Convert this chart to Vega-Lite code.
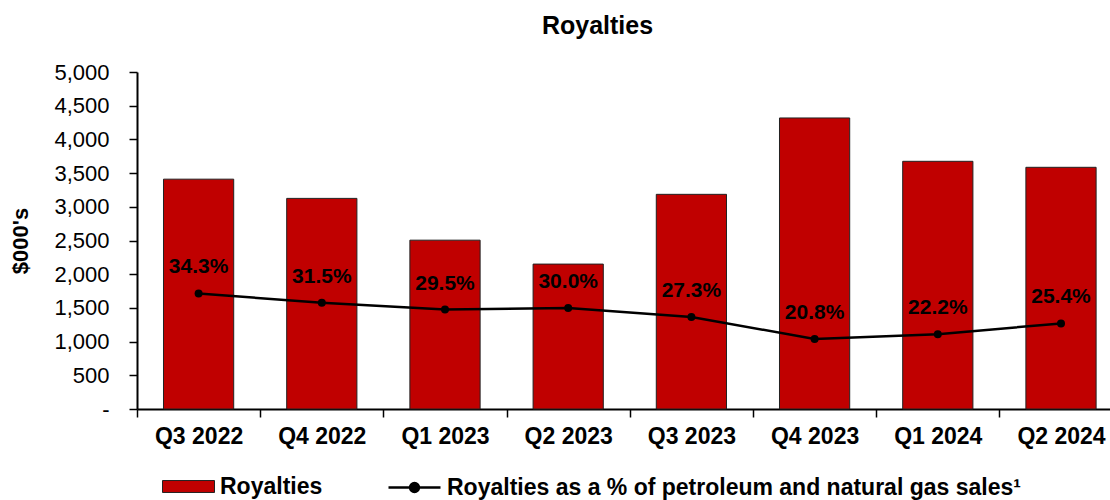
{
  "$schema": "https://vega.github.io/schema/vega-lite/v6.json",
  "width": 973,
  "height": 337,
  "autosize": {"type": "none"},
  "padding": {"left": 137, "top": 72, "right": 0, "bottom": 91},
  "config": {
    "view": {"stroke": null},
    "font": "Liberation Sans",
    "axis": {"grid": false, "domainColor": "#000", "tickColor": "#000", "labelColor": "#000", "titleColor": "#000"}
  },
  "title": {
    "text": "Royalties",
    "fontSize": 25,
    "fontWeight": "bold",
    "color": "#000",
    "anchor": "middle",
    "frame": "group",
    "dx": -26,
    "baseline": "alphabetic",
    "offset": 2
  },
  "data": {
    "values": [
      {"quarter": "Q3 2022", "royalties": 3410, "pct": 0.343},
      {"quarter": "Q4 2022", "royalties": 3125, "pct": 0.315},
      {"quarter": "Q1 2023", "royalties": 2505, "pct": 0.295},
      {"quarter": "Q2 2023", "royalties": 2150, "pct": 0.300},
      {"quarter": "Q3 2023", "royalties": 3185, "pct": 0.273},
      {"quarter": "Q4 2023", "royalties": 4318, "pct": 0.208},
      {"quarter": "Q1 2024", "royalties": 3675, "pct": 0.222},
      {"quarter": "Q2 2024", "royalties": 3586, "pct": 0.254}
    ]
  },
  "encoding": {
    "x": {
      "field": "quarter",
      "type": "nominal",
      "sort": null,
      "title": null,
      "scale": {"range": [0, 985.6], "paddingInner": 0, "paddingOuter": 0},
      "axis": {
        "labelAngle": 0,
        "labelFontSize": 23,
        "labelFontWeight": "bold",
        "labelPadding": 8,
        "tickSize": 8,
        "tickWidth": 1.5,
        "domainWidth": 2,
        "tickBand": "extent"
      }
    }
  },
  "layer": [
    {
      "mark": {"type": "bar", "stroke": "#222", "strokeWidth": 1, "width": {"band": 0.57}},
      "encoding": {
        "y": {
          "field": "royalties",
          "type": "quantitative",
          "scale": {"domain": [0, 5000]},
          "title": "$000's",
          "axis": {
            "values": [0, 500, 1000, 1500, 2000, 2500, 3000, 3500, 4000, 4500, 5000],
            "labelExpr": "datum.value == 0 ? '-' : format(datum.value, ',')",
            "labelFontSize": 22,
            "labelPadding": 20,
            "tickSize": 8,
            "tickWidth": 1.5,
            "domainWidth": 2,
            "titleFontSize": 22,
            "titleFontWeight": "bold",
            "titlePadding": 21
          }
        },
        "fill": {
          "datum": "Royalties",
          "type": "nominal",
          "scale": {"range": ["#C00000"]},
          "legend": {
            "orient": "none",
            "legendX": 25,
            "legendY": 388,
            "title": null,
            "padding": 0,
            "symbolType": "M-1,-0.23H1V0.23H-1Z",
            "symbolSize": 2704,
            "symbolStrokeColor": "#222",
            "symbolStrokeWidth": 1,
            "labelFontSize": 23,
            "labelFontWeight": "bold",
            "labelColor": "#000",
            "labelOffset": 5,
            "labelLimit": 700
          }
        }
      }
    },
    {
      "mark": {"type": "line", "strokeWidth": 2.5},
      "encoding": {
        "y": {"field": "pct", "type": "quantitative", "scale": {"domain": [0, 1]}, "axis": null},
        "stroke": {
          "datum": "Royalties as a % of petroleum and natural gas sales¹",
          "type": "nominal",
          "scale": {"range": ["#000"]},
          "legend": {
            "orient": "none",
            "legendX": 250,
            "legendY": 388,
            "title": null,
            "padding": 0,
            "symbolType": "M-1,0H1M-0.17,0A0.17,0.17 0 1 0 0.17,0A0.17,0.17 0 1 0 -0.17,0Z",
            "symbolSize": 2704,
            "symbolStrokeWidth": 2.5,
            "labelFontSize": 23,
            "labelFontWeight": "bold",
            "labelColor": "#000",
            "labelOffset": 5,
            "labelLimit": 700,
            "encode": {"symbols": {"update": {"fill": {"value": "#000"}, "stroke": {"value": "#000"}, "strokeWidth": {"value": 2.5}}}}
          }
        }
      }
    },
    {
      "mark": {"type": "point", "filled": true, "size": 64, "color": "#000", "opacity": 1},
      "encoding": {
        "y": {"field": "pct", "type": "quantitative", "scale": {"domain": [0, 1]}, "axis": null}
      }
    },
    {
      "mark": {"type": "text", "fontSize": 21, "fontWeight": "bold", "color": "#000", "baseline": "alphabetic", "dy": -20},
      "encoding": {
        "y": {"field": "pct", "type": "quantitative", "scale": {"domain": [0, 1]}, "axis": null},
        "text": {"field": "pct", "type": "quantitative", "format": ".1%"}
      }
    }
  ],
  "resolve": {"scale": {"y": "independent"}}
}
